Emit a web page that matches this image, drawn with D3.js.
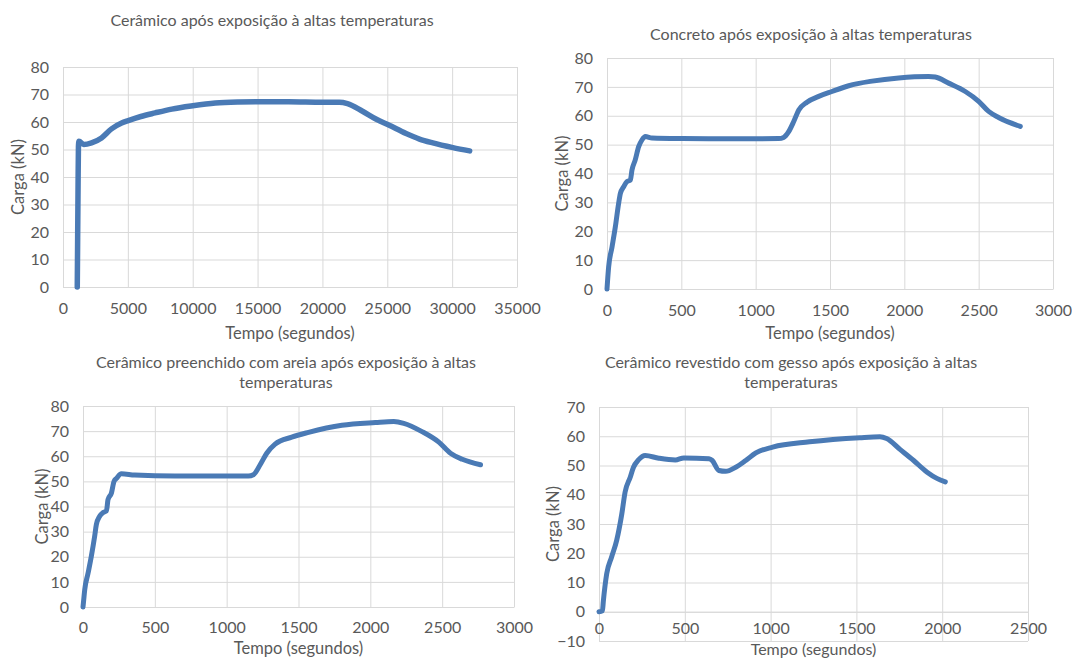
<!DOCTYPE html>
<html><head><meta charset="utf-8">
<script src="https://cdn.jsdelivr.net/npm/d3@7"></script>
<style>
body{margin:0;background:#fff}
svg{display:block}
</style>
</head><body>
<svg id="chart" width="1072" height="660"></svg>
<script>
// ---------- DATA ----------
const titles1 = ["Cerâmico após exposição à altas temperaturas"];
const titles2 = ["Concreto após exposição à altas temperaturas"];
const titles3 = ["Cerâmico preenchido com areia após exposição à altas", "temperaturas"];
const titles4 = ["Cerâmico revestido com gesso após exposição à altas", "temperaturas"];
const xAxisTitle = "Tempo (segundos)";
const yAxisTitle = "Carga (kN)";

const xTicks35000 = [0, 5000, 10000, 15000, 20000, 25000, 30000, 35000];
const xTicks3000 = [0, 500, 1000, 1500, 2000, 2500, 3000];
const xTicks2500 = [0, 500, 1000, 1500, 2000, 2500];
const yTicks80 = [0, 10, 20, 30, 40, 50, 60, 70, 80];
const yTicks70 = [-10, 0, 10, 20, 30, 40, 50, 60, 70];

// Chart 1: Cerâmico
const time1 = [1100, 1130, 1160, 1190, 1230, 1600, 2200, 2970, 3740, 4520, 5030, 6000, 7100, 8390, 10000, 11740, 13550, 15000, 17400, 20000, 21300, 21930, 23090, 24120, 25150, 26450, 27480, 28510, 30060, 31350];
const load1 = [0, 18, 36, 51, 53, 51.8, 52.4, 54.2, 57.5, 59.6, 60.5, 62, 63.3, 64.7, 65.9, 66.9, 67.3, 67.4, 67.4, 67.2, 67.2, 66.7, 63.9, 61.1, 58.8, 55.8, 53.8, 52.4, 50.7, 49.5];

// Chart 2: Concreto
const time2 = [0, 4, 11, 34, 56, 78, 90, 112, 134, 157, 168, 190, 213, 235, 258, 303, 504, 841, 1155, 1188, 1222, 1256, 1290, 1345, 1424, 1513, 1626, 1783, 1962, 2163, 2208, 2298, 2410, 2500, 2567, 2634, 2780];
const load2 = [0, 3, 7.6, 14.6, 21.5, 29.6, 33.1, 35.4, 37.2, 37.7, 41.2, 44.7, 49.3, 51.6, 52.8, 52.3, 52.1, 52.0, 52.1, 52.5, 54.5, 58, 62, 64.7, 66.7, 68.4, 70.4, 72, 73.1, 73.6, 73.4, 71.3, 68.4, 65, 61.5, 59.4, 56.3];

// Chart 3: Cerâmico preenchido com areia
const time3 = [0, 5, 12, 35, 58, 81, 93, 116, 140, 163, 174, 198, 216, 233, 267, 360, 640, 1151, 1186, 1233, 1279, 1337, 1453, 1570, 1802, 2035, 2163, 2233, 2360, 2477, 2558, 2640, 2767];
const load3 = [0, 2.9, 6.9, 13.4, 20.2, 28.1, 32.8, 36.1, 37.6, 38.2, 42.7, 45.4, 50, 51.2, 53, 52.5, 52.1, 52.1, 52.6, 56.6, 61.2, 64.8, 67.6, 69.5, 72.3, 73.4, 73.8, 73.1, 69.8, 65.6, 61.2, 58.8, 56.6];

// Chart 4: Cerâmico revestido com gesso
const time4 = [0, 20, 25, 45, 74, 103, 133, 152, 182, 201, 230, 269, 348, 445, 494, 641, 660, 699, 738, 797, 855, 914, 1012, 1227, 1520, 1637, 1676, 1754, 1832, 1910, 1969, 2018];
const load4 = [0, 0.3, 3.4, 13, 18.8, 24.4, 33.5, 40.9, 46, 49.4, 51.9, 53.4, 52.5, 51.9, 52.6, 52.3, 51.7, 48.3, 48, 49.4, 51.7, 54.3, 56.3, 58.1, 59.5, 59.8, 59.2, 55.5, 51.8, 47.8, 45.6, 44.4];

// ---------- LAYOUT ----------
const FONT = "Lato, 'Open Sans', 'DejaVu Sans', sans-serif";
const TEXT = "#595959";
const GRID = "#d9d9d9";
const LINE = "#4a7ab5";

const charts = [
  {title: titles1, tx: 272, ty: [20], box: {l: 63, r: 517, t: 67, b: 287}, xd: [0, 35000], xt: xTicks35000, yd: [0, 80], yt: yTicks80, ylx: 18, xty: 333, xpad: 16, xfs: 16.5, time: time1, load: load1, sw: 5.5},
  {title: titles2, tx: 811, ty: [34], box: {l: 607, r: 1053, t: 58, b: 289}, xd: [0, 3000], xt: xTicks3000, yd: [0, 80], yt: yTicks80, ylx: 562, xty: 333, xpad: 16, xfs: 16.5, time: time2, load: load2, sw: 5},
  {title: titles3, tx: 286, ty: [362, 382], box: {l: 83, r: 514, t: 406, b: 607}, xd: [0, 3000], xt: xTicks3000, yd: [0, 80], yt: yTicks80, ylx: 42, xty: 648, xpad: 15, xfs: 16.5, time: time3, load: load3, sw: 5},
  {title: titles4, tx: 791, ty: [362, 382], box: {l: 599, r: 1028, t: 407, b: 641}, xd: [0, 2500], xt: xTicks2500, yd: [-10, 70], yt: yTicks70, ylx: 553, xty: 649, xpad: 11, xfs: 16, time: time4, load: load4, sw: 5}
];

const svg = d3.select("#chart");

charts.forEach(c => {
  const {l, r, t, b} = c.box;
  const x = d3.scaleLinear().domain(c.xd).range([l, r]);
  const y = d3.scaleLinear().domain(c.yd).range([b, t]);
  const g = svg.append("g");

  // horizontal gridlines + y tick labels
  const ya = g.append("g").attr("transform", `translate(${l},0)`)
    .call(d3.axisLeft(y).tickValues(c.yt).tickSize(-(r - l)).tickPadding(14).tickFormat(d3.format("d")));
  ya.select(".domain").remove();
  ya.selectAll("line").attr("stroke", GRID).attr("stroke-width", 1);
  ya.selectAll("text").attr("fill", TEXT).attr("font-size", 16).attr("font-family", FONT);

  // vertical gridlines
  const xg = g.append("g").attr("transform", `translate(0,${b})`)
    .call(d3.axisBottom(x).tickValues(c.xt).tickSize(-(b - t)).tickFormat(""));
  xg.select(".domain").remove();
  xg.selectAll("line").attr("stroke", GRID).attr("stroke-width", 1);

  // x tick labels at the y=0 crossing
  const xa = g.append("g").attr("transform", `translate(0,${y(0)})`)
    .call(d3.axisBottom(x).tickValues(c.xt).tickSize(0).tickPadding(c.xpad).tickFormat(d3.format("d")));
  xa.select(".domain").attr("stroke", GRID);
  xa.selectAll("text").attr("fill", TEXT).attr("font-size", 16).attr("font-family", FONT);

  // title
  c.title.forEach((s, i) => {
    g.append("text").attr("x", c.tx).attr("y", c.ty[i]).attr("dy", "0.35em")
      .attr("text-anchor", "middle").attr("font-size", 16).attr("font-family", FONT)
      .attr("fill", TEXT).text(s);
  });

  // axis titles
  g.append("text").attr("x", (l + r) / 2).attr("y", c.xty).attr("dy", "0.35em")
    .attr("text-anchor", "middle").attr("font-size", c.xfs).attr("font-family", FONT)
    .attr("fill", TEXT).text(xAxisTitle);
  g.append("text").attr("transform", `translate(${c.ylx},${(t + b) / 2}) rotate(-90)`)
    .attr("dy", "0.35em").attr("text-anchor", "middle").attr("font-size", 16.5)
    .attr("font-family", FONT).attr("fill", TEXT).text(yAxisTitle);

  // series
  const pts = c.time.map((v, i) => [v, c.load[i]]);
  const line = d3.line().x(d => x(d[0])).y(d => y(d[1])).curve(d3.curveMonotoneX);
  g.append("path").datum(pts).attr("d", line).attr("fill", "none")
    .attr("stroke", LINE).attr("stroke-width", c.sw)
    .attr("stroke-linejoin", "round").attr("stroke-linecap", "round");
});
</script>
</body></html>
